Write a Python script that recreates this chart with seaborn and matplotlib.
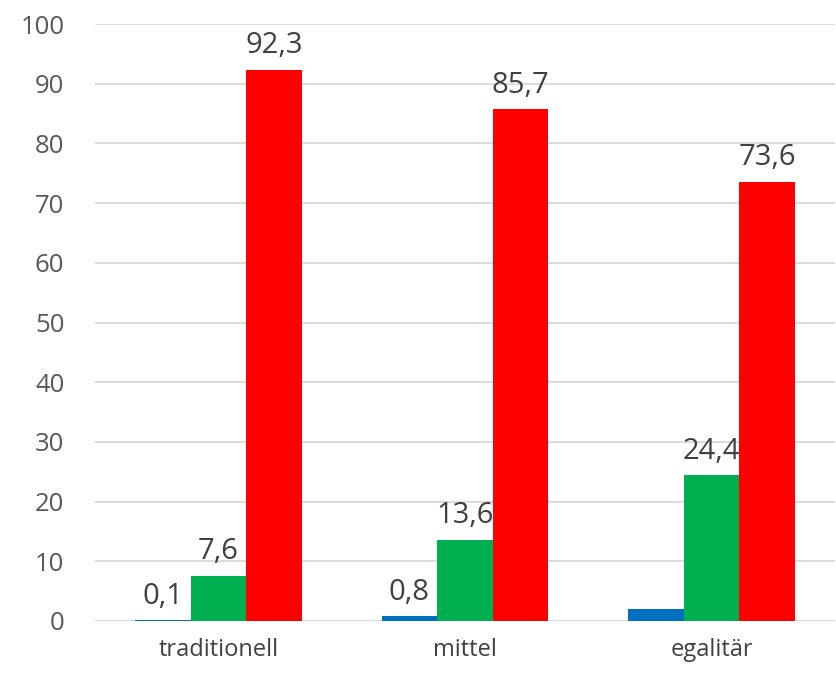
import matplotlib
matplotlib.use("Agg")
import matplotlib.pyplot as plt
import seaborn as sns
import pandas as pd

categories = ["traditionell", "mittel", "egalitär"]
series = ["blau", "grün", "rot"]
blue_vals = [0.1, 0.8, 2.0]
green_vals = [7.6, 13.6, 24.4]
red_vals = [92.3, 85.7, 73.6]
# which values get a data label (egalitär blue has none in the original)
show_label = {"blau": [True, True, False], "grün": [True, True, True], "rot": [True, True, True]}

colors = ["#0070C0", "#00B050", "#FF0000"]

rows = []
for s, vals in zip(series, [blue_vals, green_vals, red_vals]):
    for c, v in zip(categories, vals):
        rows.append({"Kategorie": c, "Serie": s, "Wert": v})
df = pd.DataFrame(rows)

sns.set_style("white")
plt.rcParams["font.family"] = ["Open Sans", "DejaVu Sans"]

fig = plt.figure(figsize=(8.37, 6.78), dpi=100)
ax = fig.add_axes([95 / 837, 1 - 621 / 678, 740 / 837, 597 / 678])

sns.barplot(data=df, x="Kategorie", y="Wert", hue="Serie", hue_order=series,
            order=categories, palette=colors, width=0.675, gap=0,
            saturation=1, legend=False, linewidth=0, ax=ax)

for cont, s in zip(ax.containers, series):
    vals = [b.get_height() for b in cont]
    labels = [f"{v:.1f}".replace(".", ",") if ok else "" for v, ok in zip(vals, show_label[s])]
    ax.bar_label(cont, labels=labels, padding=7, fontsize=21, color="#404040")

ax.set_ylim(0, 100)
ax.set_xlim(-0.5, 2.5)
ax.set_yticks(range(0, 101, 10))
ax.yaxis.grid(True, color="#D9D9D9", linewidth=1.3)
ax.set_axisbelow(True)
for sp in ax.spines.values():
    sp.set_visible(False)
ax.axhline(0, color="#D9D9D9", linewidth=1.3, zorder=0)
ax.set_xlabel("")
ax.set_ylabel("")
ax.tick_params(axis="y", labelsize=18.5, labelcolor="#595959", length=0, pad=22)
ax.tick_params(axis="x", labelsize=17, labelcolor="#404040", length=0, pad=12)

fig.savefig("out.png", dpi=100)
